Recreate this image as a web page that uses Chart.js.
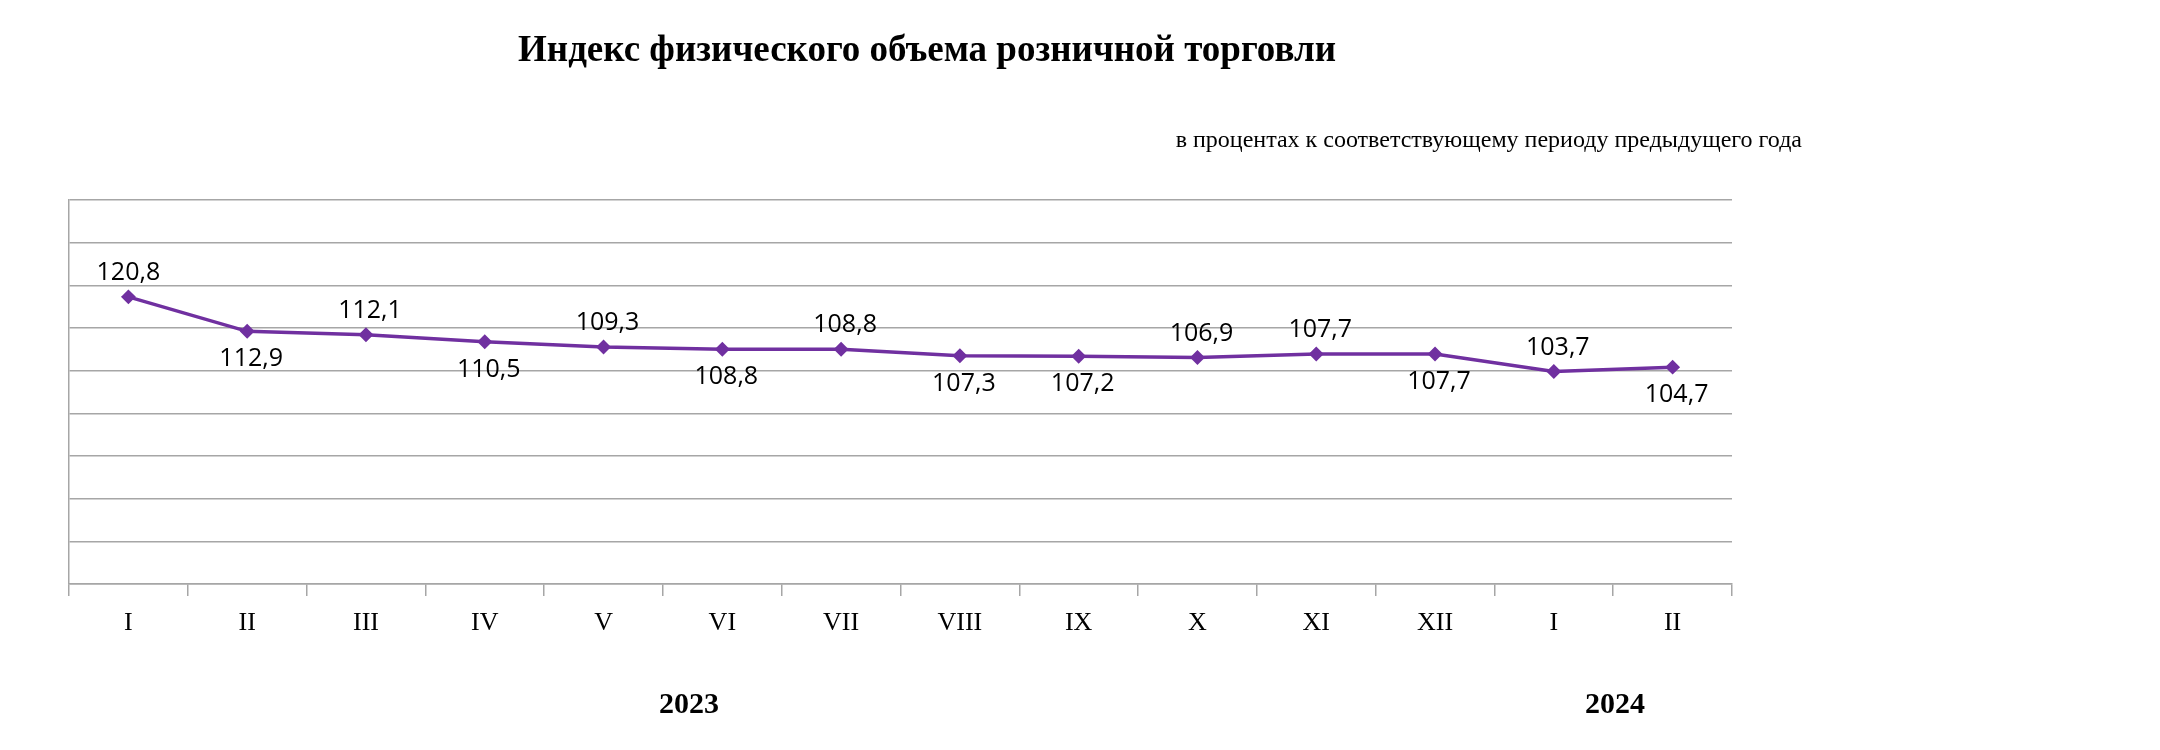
<!DOCTYPE html>
<html><head><meta charset="utf-8">
<script src="https://cdn.jsdelivr.net/npm/chart.js@4"></script>
<style>html,body{margin:0;padding:0;background:#fff}#w{width:2160px;height:750px}</style>
</head><body><div id="w"><canvas id="c"></canvas></div>
<script>
const months = ["I","II","III","IV","V","VI","VII","VIII","IX","X","XI","XII","I","II"];
const values = [120.8,112.9,112.1,110.5,109.3,108.8,108.8,107.3,107.2,106.9,107.7,107.7,103.7,104.7];
const labelAbove = [true,false,true,false,true,false,true,false,false,true,true,false,true,false];
const title = "Индекс физического объема розничной торговли";
const subtitle = "в процентах к соответствующему периоду предыдущего года";

const textPlugin = {
  id:'texts',
  afterDatasetsDraw(chart){
    const ctx = chart.ctx;
    ctx.save();
    ctx.fillStyle = '#000';
    ctx.textBaseline = 'middle';
    ctx.textAlign = 'center';
    ctx.font = 'bold 37px "Liberation Serif"';
    ctx.fillText(title, 927, 51);
    ctx.textAlign = 'right';
    ctx.font = '24px "Liberation Serif"';
    ctx.fillText(subtitle, 1802, 141);
    ctx.textAlign = 'center';
    ctx.font = 'bold 30px "Liberation Serif"';
    ctx.fillText("2023", 689, 705);
    ctx.fillText("2024", 1615, 705);
    ctx.font = '25px "Open Sans"';
    const meta = chart.getDatasetMeta(0);
    meta.data.forEach((p,i)=>{
      const t = values[i].toFixed(1).replace('.',',');
      ctx.fillText(t, p.x + (i===0?0:4), labelAbove[i] ? p.y - 24 : p.y + 28);
    });
    ctx.restore();
  }
};

new Chart(document.getElementById('c'), {
  type:'line',
  data:{labels:months, datasets:[{data:values, borderColor:'#7030a0', backgroundColor:'#7030a0',
    borderWidth:3.5, pointStyle:'rectRot', pointRadius:5, tension:0}]},
  options:{
    responsive:true, maintainAspectRatio:false, animation:false,
    layout:{padding:{left:69, right:428, top:200, bottom:0}},
    plugins:{legend:{display:false}, tooltip:{enabled:false}},
    scales:{
      x:{offset:true,
        grid:{offset:true, drawOnChartArea:false, tickLength:12, color:'#a6a6a6', lineWidth:1.5},
        border:{color:'#a6a6a6', width:1.5},
        ticks:{font:{family:'Liberation Serif', size:26}, color:'#000', padding:12, maxRotation:0, autoSkip:false},
        afterFit(s){s.height=166;}},
      y:{min:55, max:143, ticks:{display:false, count:10},
        grid:{color:'#a6a6a6', lineWidth:1.5, drawTicks:false},
        border:{color:'#a6a6a6', width:1.5},
        afterFit(s){s.width=0;}}
    }
  },
  plugins:[textPlugin]
});
</script></body></html>
